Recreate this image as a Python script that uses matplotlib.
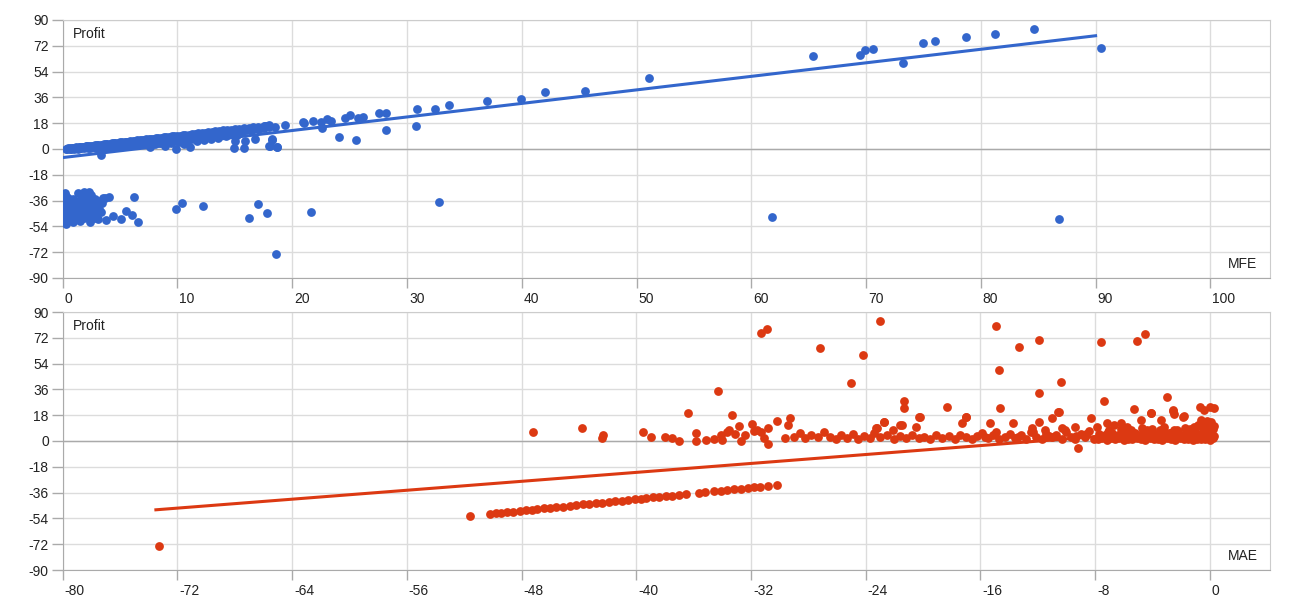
import matplotlib
matplotlib.use("Agg")
import matplotlib.pyplot as plt
import matplotlib.transforms as mtransforms

plt.rcParams['font.family'] = ['Liberation Sans', 'DejaVu Sans']
plt.rcParams['axes.unicode_minus'] = False

BLUE = '#3366cc'
RED = '#dc3912'

# ---- top panel: Profit vs MFE ----
# winning trades band (profit close to MFE)
mfe_band = [0.3, 0.5, 0.6, 0.8, 0.9, 1.1, 1.2, 1.4, 1.5, 1.7, 1.8, 2.0, 2.1, 2.3, 2.5, 2.6,
            2.8, 3.0, 3.1, 3.3, 3.4, 3.6, 3.8, 3.9, 4.1, 4.3, 4.5, 4.6, 4.8, 5.0, 5.2, 5.4,
            5.5, 5.7, 5.9, 6.1, 6.3, 6.5, 6.7, 6.9, 7.1, 7.3, 7.5, 7.7, 7.9, 8.1, 8.3, 8.6,
            8.8, 9.0, 9.3, 9.5, 9.7, 10.0, 10.2, 10.5, 10.7, 11.0, 11.3, 11.5, 11.8, 12.1,
            12.4, 12.7, 13.0, 13.3, 13.6, 14.0, 14.3, 14.7, 15.0, 15.4, 15.8, 16.2, 16.6,
            17.0, 17.5, 18.0,
            0.4, 0.7, 1.0, 1.3, 1.6, 1.9, 2.2, 2.4, 2.7, 2.9, 3.2, 3.3, 3.5, 3.7, 4.0, 4.2,
            4.4, 4.7, 4.9, 5.1, 5.3, 5.6, 5.8, 6.0, 6.2, 6.4, 6.6, 6.8, 7.0, 7.2, 7.4, 7.6,
            7.8, 8.0, 8.2, 8.5, 8.7, 8.9, 9.2, 9.4, 9.6, 9.9, 10.1, 10.4, 10.6, 10.9, 11.1,
            11.4, 11.7, 12.0, 12.3, 12.6, 12.9, 13.2, 13.5, 13.9, 14.2, 14.6, 14.9, 15.0,
            15.2, 15.6, 15.8, 15.9, 16.4, 16.8, 17.3, 17.7, 18.1, 18.2, 18.7, 18.5, 17.6,
            0.6, 1.0, 1.5, 2.0, 2.5, 3.0, 3.5, 4.0, 4.5, 5.0, 5.5, 6.0, 6.5, 7.0, 7.5, 8.0,
            8.5, 9.0, 9.5, 10.0, 10.5, 11.0, 11.5, 12.0, 12.5, 13.0, 13.5, 14.0, 14.5, 15.0,
            15.5, 16.0, 16.5, 17.0, 17.5, 18.0]
profit_band = [0.2, 0.4, 0.5, 0.7, 0.8, 1.0, 1.1, 1.2, 1.4, 1.5, 1.7, 1.8, 1.9, 2.1, 2.3, 2.4,
               2.5, 2.7, 2.9, 3.0, 3.1, 3.3, 3.5, 3.6, 3.8, 3.9, 4.1, 4.3, 4.4, 4.6, 4.8, 5.0,
               5.1, 5.2, 5.4, 5.6, 5.8, 6.0, 6.2, 6.3, 6.5, 6.7, 6.9, 7.1, 7.3, 7.5, 7.6, 7.9,
               8.1, 8.3, 8.5, 8.8, 8.9, 9.2, 9.4, 9.6, 9.9, 10.1, 10.4, 10.6, 10.9, 11.1,
               11.4, 11.7, 12.0, 12.2, 12.5, 12.9, 13.2, 13.5, 13.8, 14.2, 14.5, 14.9, 15.3,
               15.6, 16.1, 16.6,
               0.0, 0.1, 0.3, 0.2, 0.6, 0.4, 0.9, 0.5, 1.2, 0.7, 1.5, -4.5, 1.0, 2.0, 1.3, 2.5,
               1.6, 2.9, 1.8, 3.3, 2.2, 3.7, 2.5, 4.1, 2.8, 4.4, 3.0, 4.8, 3.3, 5.1, 3.5, 1.5,
               5.5, 3.8, 6.0, 4.2, 6.4, 2.0, 6.8, 4.5, 7.2, -0.2, 5.0, 7.7, 3.6, 8.0, 1.2,
               8.4, 5.5, 8.7, 6.5, 9.3, 7.2, 9.8, 8.0, 10.5, 8.8, 11.3, 0.5, 5.8,
               9.5, 12.0, 0.5, 5.8, 13.0, 6.7, 14.5, 15.8, 2.1, 6.8, 1.2, 15.5, 16.0,
               0.0, 0.6, 0.9, 1.2, 1.6, 2.0, 2.4, 2.8, 3.0, 3.5, 3.9, 4.2, 4.7, 5.0, 5.5, 5.9,
               6.3, 6.6, 7.0, 7.5, 7.9, 8.3, 8.7, 9.2, 9.6, 10.1, 10.5, 11.0, 11.4, 11.9,
               12.4, 12.9, 13.4, 14.0, 14.6, 15.3]

# losing trades cluster near MFE 0..3.5
mfe_loss = [0.2, 0.2, 0.2, 0.2, 0.2, 0.2, 0.3, 0.3, 0.3, 0.3, 0.3, 0.3, 0.5, 0.5, 0.5, 0.5,
            0.5, 0.7, 0.7, 0.7, 0.7, 0.9, 0.9, 0.9, 0.9, 0.9, 1.1, 1.1, 1.1, 1.1, 1.3, 1.3,
            1.3, 1.3, 1.5, 1.5, 1.5, 1.7, 1.7, 1.7, 1.7, 1.9, 1.9, 1.9, 1.9, 2.1, 2.1, 2.1,
            2.3, 2.3, 2.3, 2.3, 2.4, 2.5, 2.5, 2.6, 2.7, 2.8, 2.9, 3.0, 3.1, 3.2, 3.3, 3.05,
            3.4, 3.5, 3.7, 3.8, 4.0, 4.35, 5.1, 5.5, 6.0, 6.2, 6.6]
profit_loss = [-31, -35, -39, -43, -47, -50, -33, -37, -41, -45, -49, -52, -34, -38, -42, -46,
               -50, -36, -40, -44, -48, -35, -39, -43, -47, -51, -37, -41, -45, -49, -31, -36,
               -42, -47, -39, -44, -50, -33, -37, -41, -46, -30, -35, -43, -48, -31, -38, -44,
               -30, -34, -40, -47, -51, -32, -37, -43, -48, -35, -40, -45, -36, -42, -44, -49,
               -38, -34, -34.4, -49.5, -33.3, -46.8, -48.8, -43, -46, -33.7, -50.7]

# scattered trades
mfe_out = [90.5, 84.6, 81.2, 78.7, 76.0, 75.0, 73.2, 70.6, 69.9, 69.5, 65.4, 61.8, 86.8,
           51.1, 45.5, 42.0, 39.9, 37.0, 33.7, 32.4, 30.9, 30.8, 32.8, 28.2, 27.6, 28.2,
           26.2, 25.7, 25.0, 24.6, 25.6, 24.1, 23.4, 23.0, 22.5, 22.6, 21.8, 21.0, 20.9,
           21.6, 19.4, 18.7, 18.0, 18.2, 18.6, 17.8, 17.0, 16.2, 12.2, 10.4, 9.9]
profit_out = [70.7, 83.7, 80.5, 77.9, 75.4, 74.2, 60.2, 69.8, 69.0, 65.6, 64.9, -47.5, -49.1,
              49.5, 40.7, 40.0, 34.9, 33.5, 30.7, 28.1, 27.7, 16.0, -37.2, 24.9, 24.9, 13.3,
              22.5, 21.4, 23.7, 21.4, 6.3, 8.4, 19.5, 20.7, 19.0, 14.4, 19.5, 17.9, 19.0,
              -43.7, 16.7, 1.6, 2.3, 6.3, -73.5, -44.4, -38.4, -47.9, -39.6, -37.9, -41.6]

mfe_trend = [0, 90]
mfe_trend_profit = [-6, 79]

# ---- bottom panel: Profit vs MAE ----
# stop-loss trades (profit close to MAE)
mae_sl = [-73.3, -51.6, -50.2, -49.8, -49.4, -49.0, -48.6, -48.1, -47.7, -47.3, -46.9, -46.4,
          -46.0, -45.6, -45.1, -44.6, -44.2, -43.7, -43.3, -42.8, -42.4, -41.9, -41.5, -41.0,
          -40.6, -40.1, -39.7, -39.3, -38.8, -38.4, -37.9, -37.5, -37.0, -36.5,
          -35.6, -35.2, -34.6, -34.1, -33.7, -33.2, -32.7, -32.2, -31.8, -31.4, -30.8, -30.2]
profit_sl = [-73.3, -52.1, -50.9, -50.5, -50.0, -49.6, -49.2, -48.8, -48.3, -47.9, -47.5, -47.0,
             -46.6, -46.2, -45.7, -45.2, -44.8, -44.3, -43.9, -43.4, -43.0, -42.5, -42.1, -41.6,
             -41.2, -40.7, -40.3, -39.9, -39.4, -39.0, -38.5, -38.1, -37.6, -37.0,
             -36.1, -35.7, -35.1, -34.6, -34.2, -33.7, -33.2, -32.7, -32.3, -31.9, -31.1, -30.6]

# small-profit trades near zero
mae_base = [-47.2, -43.8, -42.3, -42.4, -39.5, -39.0, -38.0, -37.5, -37.0, -35.8, -35.8, -35.1,
            -34.6, -34.1, -34.0, -33.7, -33.5, -33.1, -32.8, -32.7, -32.4, -31.9, -31.8, -31.6,
            -31.3, -31.1, -30.8, -30.2, -30.8, -29.3, -29.4, -29.6,
            -29.0, -28.6, -28.2, -27.8, -27.3, -26.9, -26.5, -26.1, -25.7, -25.3, -24.9, -24.5,
            -24.1, -23.7, -23.4, -23.0, -22.5, -22.0, -21.6, -21.2, -20.8, -20.3, -19.9, -19.5,
            -19.1, -18.7, -18.2, -17.8, -17.4, -17.0, -16.6, -16.2, -15.9, -15.5, -15.1, -14.7,
            -14.3, -13.9, -13.6, -13.2, -12.8, -12.5, -12.1, -11.7, -11.4, -11.0, -10.7, -10.3,
            -10.0, -9.7, -9.4, -9.0, -8.7, -8.4, -8.1,
            -23.2, -22.7, -22.1, -21.6, -21.5, -22.7, -23.3, -20.5, -20.3, -17.3, -17.0, -15.3,
            -13.7, -12.4, -11.9, -11.5, -11.0, -10.6, -10.3, -9.4, -9.2, -8.25, -7.9, -7.2,
            -6.7, -6.2, -5.8, -4.8, -4.1, -3.4, -2.6, -1.9,
            -7.8, -7.5, -7.2, -6.9, -6.6, -6.3, -6.0, -5.7, -5.4, -5.1, -4.8, -4.5, -4.2, -3.9,
            -3.6, -3.3, -3.0, -2.7, -2.4, -2.1, -1.8, -1.5, -1.2, -0.9, -0.6, -0.3, 0.0, 0.2,
            -7.7, -7.3, -6.8, -6.4, -6.0, -5.6, -5.2, -4.9, -4.6, -4.3, -4.0, -3.7, -3.4, -3.1,
            -2.8, -2.5, -2.2, -1.9, -1.6, -1.3, -1.0, -0.7, -0.4, -0.1, 0.1, 0.3,
            -7.0, -6.2, -5.5, -4.7, -4.0, -3.2, -2.5, -1.7, -1.1, -0.8, -0.5, -0.3, 0.0, 0.2,
            -0.2, -0.6, 0.1, -0.4, 0.3,
            -7.6, -7.1, -6.5, -5.9, -5.3, -4.4, -3.8, -3.5, -2.9, -2.3, -2.0, -1.4, -0.9, -0.2,
            0.1, 0.3, -0.3, -15.7, -14.9, -13.4, -12.3, -11.2, -10.1, -9.3, -8.6]
profit_base = [6.5, 8.8, 4.2, 1.9, 6.5, 2.6, 2.6, 1.9, 0.2, 5.4, 0.2, 0.7,
               1.2, 4.0, 0.7, 6.5, 7.7, 4.9, 10.5, 0.2, 4.2, 11.9, 7.0, 7.7,
               6.5, 1.9, -2.1, 14.2, 8.8, 15.8, 11.2, 1.9,
               3.0, 5.5, 2.0, 4.5, 2.5, 6.0, 3.0, 1.5, 4.0, 2.0, 5.0, 1.5,
               3.5, 2.0, 5.5, 2.5, 4.0, 1.5, 3.5, 2.0, 4.5, 1.8, 3.0, 1.5,
               4.0, 2.0, 3.5, 1.5, 4.0, 2.5, 1.2, 3.5, 5.5, 2.0, 4.0, 1.5,
               3.0, 5.0, 2.0, 4.0, 1.5, 6.0, 3.0, 1.5, 5.0, 2.5, 4.5, 1.5,
               6.0, 3.0, 1.2, 5.0, 2.5, 7.0, 1.5,
               8.8, 13.5, 7.7, 11.2, 11.2, 13.5, 8.9, 10.0, 17.0, 12.3, 17.0, 12.3,
               12.8, 8.8, 13.5, 8.0, 15.8, 20.4, 9.0, 10.0, -5.1, 15.8, 10.0, 12.3,
               11.0, 12.5, 10.0, 14.7, 19.5, 14.7, 21.2, 17.0,
               1.2, 2.0, 1.0, 1.8, 1.3, 2.2, 1.0, 1.6, 1.1, 2.0, 1.4, 1.0, 1.9, 1.2,
               1.6, 1.0, 2.1, 1.3, 1.0, 1.8, 1.2, 1.5, 1.0, 1.7, 1.1, 1.4, 1.0, 1.8,
               5.0, 4.0, 5.5, 4.2, 5.0, 3.8, 5.8, 4.5, 6.2, 4.0, 5.5, 4.5, 6.0, 4.2,
               5.8, 4.8, 6.5, 4.5, 6.0, 5.0, 7.0, 5.0, 6.5, 4.5, 6.0, 3.5,
               8.0, 8.5, 7.5, 9.0, 8.5, 9.5, 8.0, 9.0, 10.0, 11.5, 9.0, 12.0, 10.0, 8.5,
               14.0, 15.0, 13.0, 21.6, 23.0,
               3.0, 6.5, 2.8, 7.0, 3.2, 7.5, 3.0, 8.0, 3.2, 7.8, 3.0, 8.5, 3.2, 7.5,
               3.0, 10.5, 5.5, 3.0, 6.5, 3.0, 6.0, 3.5, 8.0, 3.5, 5.0]

# scattered trades
mae_out = [-23.0, -31.3, -30.9, -27.2, -24.2, -25.0, -34.3, -36.4, -33.3, -21.3, -21.3,
           -18.3, -17.0, -14.9, -14.7, -14.6, -13.3, -11.9, -11.9, -10.4, -10.5, -7.6, -7.4,
           -5.1, -4.5, -3.0, -5.3, -4.1, -2.6, -2.5, -1.8, -20.2, -0.7, 0.0]
profit_out2 = [83.7, 75.1, 77.9, 64.7, 60.0, 40.3, 34.9, 19.8, 18.1, 28.1, 22.8,
               23.9, 17.0, 80.5, 49.5, 22.8, 65.4, 70.7, 33.7, 41.0, 20.4, 69.3, 27.9,
               70.0, 74.4, 30.9, 22.3, 19.8, 21.6, 18.8, 17.4, 17.0, 23.7, 24.0]

mae_trend = [-73.5, 0.3]
mae_trend_profit = [-48, 9.5]

fig = plt.figure(figsize=(12.9, 6), dpi=100)
ax1 = fig.add_axes([0.0486, 0.5367, 0.9359, 0.43])
ax2 = fig.add_axes([0.0486, 0.05, 0.9359, 0.43])

yticks = [-90, -72, -54, -36, -18, 0, 18, 36, 54, 72, 90]


def style(ax, xlim, xticks, xname):
    ax.set_xlim(*xlim)
    ax.set_ylim(-90, 90)
    ax.set_xticks(xticks)
    ax.set_yticks(yticks)
    ax.grid(True, color='#dcdcdc', linewidth=1)
    ax.set_axisbelow(True)
    ax.axhline(0, color='#aaaaaa', linewidth=1, zorder=1)
    for side in ['top', 'right']:
        ax.spines[side].set_color('#cccccc')
    for side in ['left', 'bottom']:
        ax.spines[side].set_color('#aaaaaa')
    ax.tick_params(axis='y', length=8, width=1, color='#aaaaaa', pad=2,
                   labelsize=10, labelcolor='#222222')
    ax.tick_params(axis='x', length=7, width=1, color='#aaaaaa', pad=3,
                   labelsize=10, labelcolor='#222222')
    offset = mtransforms.ScaledTranslation(2 / 100, 0, fig.dpi_scale_trans)
    for lab in ax.get_xticklabels():
        lab.set_horizontalalignment('left')
        lab.set_transform(lab.get_transform() + offset)
    ax.annotate('Profit', xy=(0, 1), xycoords='axes fraction', xytext=(7, -10),
                textcoords='offset points', ha='left', va='center', fontsize=10,
                color='#222222')
    ax.annotate(xname, xy=(1, 0), xycoords='axes fraction', xytext=(-9, 10),
                textcoords='offset points', ha='right', va='center', fontsize=10,
                color='#222222')


style(ax1, (0, 105.2), [0, 10, 20, 30, 40, 50, 60, 70, 80, 90, 100], 'MFE')
style(ax2, (-80, 4.2), [-80, -72, -64, -56, -48, -40, -32, -24, -16, -8, 0], 'MAE')

dot = dict(s=40, linewidths=0, zorder=3)
ax1.scatter(mfe_band, profit_band, color=BLUE, **dot)
ax1.scatter(mfe_loss, profit_loss, color=BLUE, **dot)
ax1.scatter(mfe_out, profit_out, color=BLUE, **dot)
ax1.plot(mfe_trend, mfe_trend_profit, color=BLUE, linewidth=2.2, zorder=4)

ax2.plot(mae_trend, mae_trend_profit, color=RED, linewidth=2.2, zorder=2)
ax2.scatter(mae_sl, profit_sl, color=RED, **dot)
ax2.scatter(mae_base, profit_base, color=RED, **dot)
ax2.scatter(mae_out, profit_out2, color=RED, **dot)

fig.savefig('out.png', dpi=100)
